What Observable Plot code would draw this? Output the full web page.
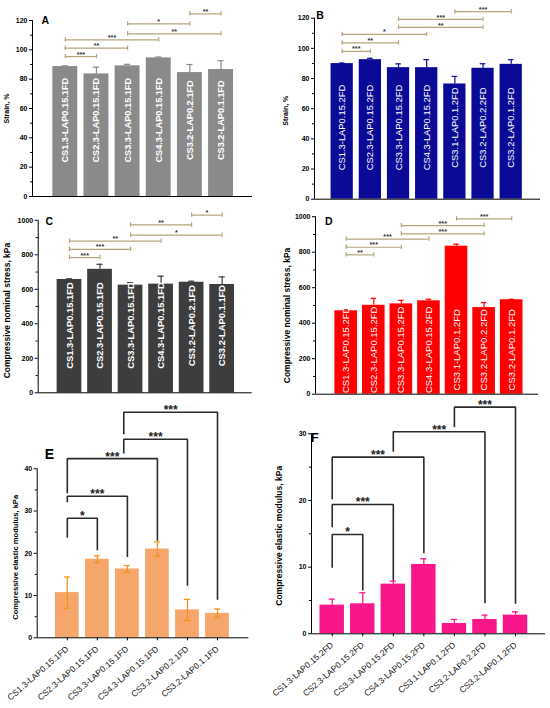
<!DOCTYPE html>
<html><head><meta charset="utf-8">
<script src="https://cdn.jsdelivr.net/npm/d3@7"></script>
<script src="https://cdn.jsdelivr.net/npm/@observablehq/plot@0.6"></script>
<style>
body{margin:0;background:#fff;}
#fig{position:relative;width:550px;height:708px;overflow:hidden;background:#fff;}
#fig svg{position:absolute;overflow:visible;}
</style></head><body><div id="fig"></div>
<script>
// ---------- data ----------
const cats1FD = ["CS1.3-LAP0.15.1FD","CS2.3-LAP0.15.1FD","CS3.3-LAP0.15.1FD","CS4.3-LAP0.15.1FD","CS3.2-LAP0.2.1FD","CS3.2-LAP0.1.1FD"];
const cats2FD = ["CS1.3-LAP0.15.2FD","CS2.3-LAP0.15.2FD","CS3.3-LAP0.15.2FD","CS4.3-LAP0.15.2FD","CS3.1-LAP0.1.2FD","CS3.2-LAP0.2.2FD","CS3.2-LAP0.1.2FD"];

const strainA = [88.6, 83.6, 89.1, 94.5, 84.5, 86.6];
const strainAErr = [0.5, 4.6, 1.0, 0.6, 5.5, 6.0];
const strainB = [89.9, 92.5, 87.2, 87.2, 76.4, 86.8, 89.4];
const strainBErr = [0.4, 0.9, 2.5, 5.3, 5.0, 3.0, 3.1];
const stressC = [657, 716, 624, 630, 641, 628];
const stressCErr = [4, 29, 15, 46, 6, 44];
const stressD = [470, 501, 509, 526, 834, 488, 532];
const stressDErr = [5, 39, 20, 9, 11, 28, 3];
const modulusE = [10.7, 18.6, 16.3, 21.0, 6.6, 5.8];
const modulusEErr = [3.7, 0.8, 0.8, 1.7, 2.5, 1.0];
const modulusF = [4.3, 4.5, 7.45, 10.4, 1.55, 2.15, 2.8];
const modulusFErr = [0.9, 1.65, 0.45, 0.85, 0.6, 0.65, 0.5];

// significance: [from, to, level, label]
const sigA = [[0,1,95.4,"***"],[0,2,101.1,"**"],[0,3,106.8,"***"],[2,5,110.9,"**"],[2,4,117.7,"*"],[4,5,124.5,"**"]];
const sigB = [[0,1,98,"***"],[0,2,103.6,"**"],[0,3,109.3,"*"],[2,5,113.9,"**"],[2,5,119.2,"***"],[4,6,124.3,"***"]];
const sigC = [[0,1,784,"***"],[0,2,832,"***"],[0,3,879,"**"],[2,5,914,"*"],[2,4,973,"**"],[4,5,1030,"*"]];
const sigD = [[0,1,785,"**"],[0,2,828,"***"],[0,3,874,"***"],[2,5,903,"***"],[2,5,950,"***"],[4,6,988,"***"]];
// significance with legs: [from, to, level, leftLegEnd, rightLegEnd, label]
const sigE = [[0,1,28.3,23.7,20.7,"*"],[0,2,33.5,32.1,19.1,"***"],[0,3,42.4,34.2,23.0,"***"],[1.88,4,47.0,43.6,12.3,"***"],[1.88,5,53.4,48.2,9.0,"***"]];
const sigF = [[0,1,14.9,9.9,6.5,"*"],[0,2,19.4,16.0,8.0,"***"],[0,3,26.5,20.2,12.1,"***"],[2,5,30.3,27.3,4.6,"***"],[4,6,34.0,31.0,4.5,"***"]];

const strainTicks = [0,20,40,60,80,100,120];
const strainMinor = [10,30,50,70,90,110];
const stressTicks = [0,200,400,600,800,1000];
const stressMinor = [100,300,500,700,900];
const modTicksE = [0,10,20,30,40];
const modMinorE = [5,15,25,35];
const modTicksF = [0,10,20,30];
const modMinorF = [5,15,25];

// ---------- drawing ----------
const FONT = "'Liberation Sans', Arial, Helvetica, sans-serif";

function panel(o) {
  const rows = o.cats.map((c, i) => ({i, c, v: o.vals[i], e: o.errs[i]}));
  const k = (o.height - o.mt - o.mb) / (o.yDomain[1] - o.yDomain[0]);
  const hw = o.barW / 2, cw = 0.1;
  const yTop = o.yTicks[o.yTicks.length - 1];
  const marks = [
    Plot.rect(rows, {x1: d => d.i - hw, x2: d => d.i + hw, y1: 0, y2: "v", fill: o.fill}),
    Plot.ruleX(rows, {x: "i", y1: d => o.errBoth ? d.v - d.e : d.v, y2: d => d.v + d.e, stroke: o.errColor, strokeWidth: o.errWidth}),
    Plot.ruleY(rows, {x1: d => d.i - cw, x2: d => d.i + cw, y: d => d.v + d.e, stroke: o.errColor, strokeWidth: o.errWidth})
  ];
  if (o.errBoth) marks.push(Plot.ruleY(rows, {x1: d => d.i - cw, x2: d => d.i + cw, y: d => d.v - d.e, stroke: o.errColor, strokeWidth: o.errWidth}));
  // axes
  marks.push(Plot.ruleY([0], {stroke: "#000", strokeWidth: 1}));
  marks.push(Plot.ruleX([o.xDomain[0]], {y1: 0, y2: yTop, stroke: "#000", strokeWidth: 1}));
  marks.push(Plot.axisY({ticks: o.yTicks, tickSize: 3, tickFormat: () => "", label: null}));
  marks.push(Plot.axisY({ticks: o.yMinor, tickSize: 2, tickFormat: () => "", label: null}));
  marks.push(Plot.text(o.yTicks, {y: d => d, frameAnchor: "left", text: d => String(d), dx: -5, textAnchor: "end", lineAnchor: "middle", fontSize: o.tickFont, fontWeight: "bold", fill: "#000"}));
  // category labels
  if (o.inside) {
    marks.push(Plot.text(rows, {x: "i", y: () => o.labelY, text: "c", rotate: -90, fill: "white", fontSize: o.labelFont, fontWeight: o.labelWeight}));
  } else {
    marks.push(Plot.axisX({ticks: d3.range(rows.length), tickSize: 3, tickFormat: () => "", label: null}));
    marks.push(Plot.text(rows, {x: "i", frameAnchor: "bottom", text: "c", rotate: o.labelRotate, textAnchor: "end", lineAnchor: "middle", dy: o.labelDy, dx: o.labelDx, fontSize: o.labelFont, fontWeight: "normal", fill: "#111"}));
  }
  // significance
  if (o.sigCaps) {
    const cap = 2.2 / k;
    const ends = o.sig.flatMap(d => [[d[0], d[2]], [d[1], d[2]]]);
    marks.push(Plot.ruleY(o.sig, {x1: d => d[0], x2: d => d[1], y: d => d[2], stroke: o.sigColor, strokeWidth: 1.2}));
    marks.push(Plot.ruleX(ends, {x: d => d[0], y1: d => d[1] - cap, y2: d => d[1] + cap, stroke: o.sigColor, strokeWidth: 1.2}));
    marks.push(Plot.text(o.sig, {x: d => (d[0] + d[1]) / 2, y: d => d[2], text: d => d[3], dy: -2.2, fontSize: 7.2, letterSpacing: 1.5, fontWeight: "bold", fill: "#333"}));
  } else {
    const pts = o.sig.flatMap((d, j) => [
      {x: d[0], y: d[3], z: j}, {x: d[0], y: d[2], z: j}, {x: d[1], y: d[2], z: j}, {x: d[1], y: d[4], z: j}
    ]);
    marks.push(Plot.line(pts, {x: "x", y: "y", z: "z", stroke: "#2b2b2b", strokeWidth: 1.6, strokeLinejoin: "miter", strokeLinecap: "butt"}));
    marks.push(Plot.text(o.sig, {x: d => (d[0] + d[1]) / 2, y: d => d[2], text: d => d[5], dy: -2, fontSize: 12, fontWeight: "bold", fill: "#222"}));
  }
  // y label and panel letter
  marks.push(Plot.text([o.ylabel], {frameAnchor: "left", rotate: -90, dx: o.ylabelDx, dy: o.ylabelDy, fontSize: o.ylabelFont, fontWeight: "bold", textAnchor: "middle", lineAnchor: "middle", fill: "#000"}));
  marks.push(Plot.text([o.letter], {frameAnchor: "top-left", dx: o.letterDx, dy: o.letterDy, fontSize: o.letterFont, fontWeight: "bold", textAnchor: "middle", lineAnchor: "middle", fill: "#000"}));

  const svg = Plot.plot({
    width: o.width, height: o.height,
    marginLeft: o.ml, marginRight: o.mr, marginTop: o.mt, marginBottom: o.mb,
    x: o.inside ? {type: "linear", domain: o.xDomain, axis: null} : {type: "linear", domain: o.xDomain},
    y: {domain: o.yDomain},
    style: {fontFamily: FONT, background: "transparent", overflow: "visible", color: "#000"},
    marks
  });
  svg.style.left = o.left + "px";
  svg.style.top = o.top + "px";
  document.getElementById("fig").appendChild(svg);
}

panel({letter: "A", cats: cats1FD, vals: strainA, errs: strainAErr, sig: sigA, sigCaps: true, sigColor: "#b3a57a",
  fill: "#8a8a8a", errColor: "#8a8a8a", errWidth: 1.2, errBoth: false,
  left: 0, top: 0, width: 275, height: 200, ml: 32, mr: 23, mt: 20, mb: 4,
  xDomain: [-1.053, 6.01], yDomain: [0, 120], barW: 0.8, yTicks: strainTicks, yMinor: strainMinor, tickFont: 7,
  inside: true, labelY: 52, labelFont: 9.2, labelWeight: "bold",
  ylabel: "Strain, %", ylabelDx: -26, ylabelDy: 0, ylabelFont: 7,
  letterDx: 12.8, letterDy: 0, letterFont: 10.5});

panel({letter: "B", cats: cats2FD, vals: strainB, errs: strainBErr, sig: sigB, sigCaps: true, sigColor: "#b3a57a",
  fill: "#0a0a96", errColor: "#0a0a96", errWidth: 1.2, errBoth: false,
  left: 275, top: 0, width: 275, height: 200, ml: 39, mr: 10, mt: 17.7, mb: 1.3,
  xDomain: [-0.983, 7.04], yDomain: [0, 120], barW: 0.79, yTicks: strainTicks, yMinor: strainMinor, tickFont: 7,
  inside: true, labelY: 47.5, labelFont: 9.4, labelWeight: "normal",
  ylabel: "Strain, %", ylabelDx: -28.7, ylabelDy: 2, ylabelFont: 7,
  letterDx: 5.5, letterDy: -2.2, letterFont: 10.5});

panel({letter: "C", cats: cats1FD, vals: stressC, errs: stressCErr, sig: sigC, sigCaps: true, sigColor: "#b3a57a",
  fill: "#3d3d3d", errColor: "#3d3d3d", errWidth: 1.2, errBoth: false,
  left: 0, top: 200, width: 275, height: 200, ml: 37.7, mr: 23.3, mt: 19.8, mb: 7.7,
  xDomain: [-1.025, 5.984], yDomain: [0, 1000], barW: 0.81, yTicks: stressTicks, yMinor: stressMinor, tickFont: 7,
  inside: true, labelY: 390, labelFont: 9.4, labelWeight: "bold",
  ylabel: "Compressive nominal stress, kPa", ylabelDx: -30.7, ylabelDy: 4, ylabelFont: 8.5,
  letterDx: 11, letterDy: 0.9, letterFont: 10.5});

panel({letter: "D", cats: cats2FD, vals: stressD, errs: stressDErr, sig: sigD, sigCaps: true, sigColor: "#b3a57a",
  fill: "#ff0000", errColor: "#ff0000", errWidth: 1.2, errBoth: false,
  left: 275, top: 200, width: 275, height: 200, ml: 40, mr: 12, mt: 16.2, mb: 6.3,
  xDomain: [-1.113, 6.972], yDomain: [0, 1000], barW: 0.82, yTicks: stressTicks, yMinor: stressMinor, tickFont: 7,
  inside: true, labelY: 250, labelFont: 9.5, labelWeight: "normal",
  ylabel: "Compressive nominal stress, kPa", ylabelDx: -28.3, ylabelDy: 10, ylabelFont: 8.5,
  letterDx: 13.3, letterDy: 4.5, letterFont: 10.5});

panel({letter: "E", cats: cats1FD, vals: modulusE, errs: modulusEErr, sig: sigE, sigCaps: false,
  fill: "#f5a76b", errColor: "#f7901e", errWidth: 1.3, errBoth: true,
  left: 0, top: 400, width: 275, height: 308, ml: 36.7, mr: 26.7, mt: 68.3, mb: 70.7,
  xDomain: [-1.002, 6.042], yDomain: [0, 40], barW: 0.79, yTicks: modTicksE, yMinor: modMinorE, tickFont: 7,
  inside: false, labelRotate: -41, labelDx: 0, labelDy: 10, labelFont: 8.5,
  ylabel: "Compressive elastic modulus, kPa", ylabelDx: -21.4, ylabelDy: 4, ylabelFont: 7.6,
  letterDx: 12.3, letterDy: -14, letterFont: 14});

panel({letter: "F", cats: cats2FD, vals: modulusF, errs: modulusFErr, sig: sigF, sigCaps: false,
  fill: "#f8168a", errColor: "#f8168a", errWidth: 1.3, errBoth: false,
  left: 275, top: 400, width: 275, height: 308, ml: 36, mr: 5, mt: 33.3, mb: 74.7,
  xDomain: [-0.678, 6.982], yDomain: [0, 30], barW: 0.8, yTicks: modTicksF, yMinor: modMinorF, tickFont: 7,
  inside: false, labelRotate: -41, labelDx: 0, labelDy: 10, labelFont: 8.5,
  ylabel: "Compressive elastic modulus, kPa", ylabelDx: -32.7, ylabelDy: 2, ylabelFont: 8.5,
  letterDx: 3.2, letterDy: 3.9, letterFont: 13});
</script>
</body></html>
